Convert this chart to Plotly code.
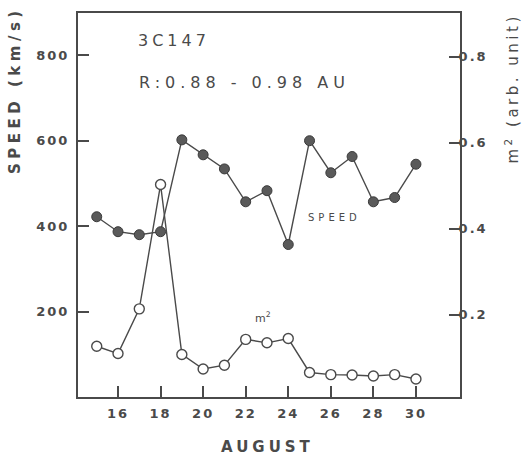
import plotly.graph_objects as go

days = [15, 16, 17, 18, 19, 20, 21, 22, 23, 24, 25, 26, 27, 28, 29, 30]
speed = [422, 387, 380, 387, 602, 567, 534, 457, 483, 357, 600, 525, 563, 457, 467, 545]
m2 = [0.127, 0.110, 0.214, 0.503, 0.108, 0.074, 0.083, 0.143, 0.135, 0.145,
      0.066, 0.061, 0.060, 0.058, 0.061, 0.051]
x_ticks = [16, 18, 20, 22, 24, 26, 28, 30]
y_ticks = [200, 400, 600, 800]
y2_ticks = [0.2, 0.4, 0.6, 0.8]
y2_labels = ["0.2", "0.4", "0.6", "0.8"]

INK = "#4a4a4a"
FONT = "DejaVu Sans"
W, H = 522, 458
L, R, T, B = 78, 62, 13, 61

fig = go.Figure()
fig.add_trace(go.Scatter(
    x=days, y=m2, yaxis="y2", mode="lines+markers",
    line=dict(color=INK, width=1.4),
    marker=dict(symbol="circle", size=10, color="white", line=dict(color=INK, width=1.4)),
    showlegend=False))
fig.add_trace(go.Scatter(
    x=days, y=speed, mode="lines+markers",
    line=dict(color=INK, width=1.4),
    marker=dict(symbol="circle", size=10, color="#5a5a5a", line=dict(color="#3a3a3a", width=1)),
    showlegend=False))

fig.update_layout(
    width=W, height=H,
    margin=dict(l=L, r=R, t=T, b=B),
    paper_bgcolor="white", plot_bgcolor="white",
    font=dict(family=FONT, color=INK, size=13),
    xaxis=dict(range=[14.12, 32.07], tickvals=x_ticks, ticks="inside", ticklen=11,
               tickwidth=1.8, tickcolor=INK, showline=True, linecolor=INK, linewidth=2,
               mirror=True, showgrid=False, zeroline=False, ticklabelstandoff=3,
               tickfont=dict(family=FONT, size=13, color=INK, weight="bold")),
    yaxis=dict(range=[0, 899], tickvals=y_ticks, ticks="inside", ticklen=11,
               tickwidth=1.8, tickcolor=INK, showline=True, linecolor=INK, linewidth=2,
               showgrid=False, zeroline=False, ticklabelstandoff=4,
               tickfont=dict(family=FONT, size=13, color=INK, weight="bold")),
    yaxis2=dict(range=[0.009, 0.902], tickvals=y2_ticks, ticktext=y2_labels,
                overlaying="y", side="right", ticks="inside", ticklen=11,
                tickwidth=1.8, tickcolor=INK, showline=True, linecolor=INK, linewidth=2,
                showgrid=False, zeroline=False, ticklabelstandoff=-6,
                tickfont=dict(family=FONT, size=13, color=INK, weight="bold")),
)

annots = [
    dict(text="3C147", x=174, y=40, size=16, weight="normal", angle=0),
    dict(text="R:0.88 - 0.98 AU", x=244, y=83, size=16, weight="normal", angle=0),
    dict(text="SPEED", x=334, y=217, size=10, weight="normal", angle=0),
    dict(text="m<sup>2</sup>", x=263, y=317, size=11, weight="normal", angle=0),
    dict(text="AUGUST", x=268, y=447, size=15, weight="bold", angle=0),
    dict(text="SPEED (km/s)", x=15, y=90, size=15, weight="bold", angle=-90),
    dict(text="m<sup>2</sup> (arb. unit)", x=512, y=89, size=15, weight="normal", angle=-90),
]
for a in annots:
    fig.add_annotation(
        text=a["text"], xref="paper", yref="paper",
        x=(a["x"] - L) / (W - L - R), y=(H - B - a["y"]) / (H - T - B),
        xanchor="center", yanchor="middle", showarrow=False, textangle=a["angle"],
        font=dict(family=FONT, size=a["size"], color=INK, weight=a["weight"]))

spacing_js = """
document.body.style.margin='0';
document.body.style.overflow='hidden';
var sp = ['4px','5px','4px','0px','4px','4.5px','3.5px'];
document.querySelectorAll('.annotation-text').forEach(function(t,i){
  if (i < sp.length) { t.style.letterSpacing = sp[i]; }
});
document.querySelectorAll('.xtick text, .ytick text, .y2tick text').forEach(function(t){
  t.style.letterSpacing = '2px';
});
"""
fig.write_html("out.html", config={"displayModeBar": False}, post_script=spacing_js)
